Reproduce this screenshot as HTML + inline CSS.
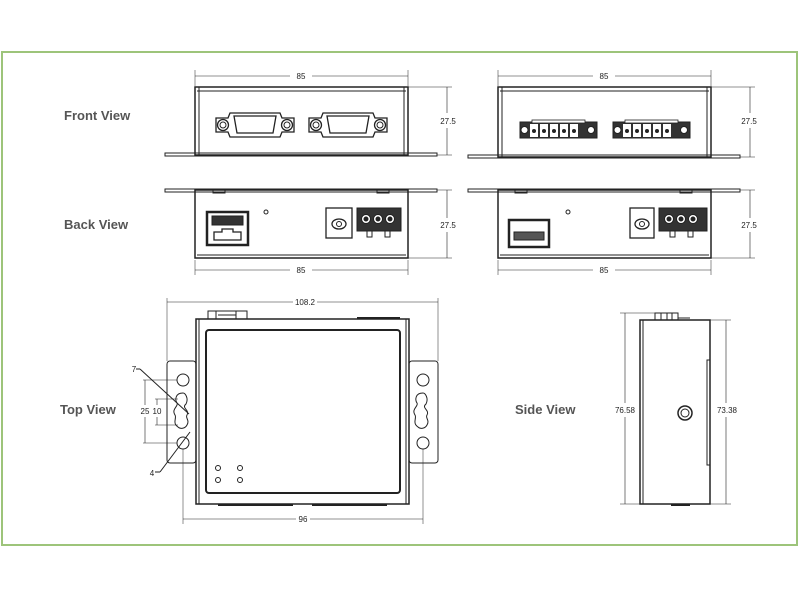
<!DOCTYPE html>
<html><head><meta charset="utf-8"><style>
html,body{margin:0;padding:0;background:#fff;width:800px;height:600px;overflow:hidden}
svg{display:block}
text{font-family:"Liberation Sans",sans-serif}
.lbl{font-size:13px;fill:#555;font-weight:bold}
.d{font-size:8px;fill:#222}
</style></head><body>
<svg width="800" height="600" viewBox="0 0 800 600">
<rect x="2" y="52" width="795" height="493" fill="none" stroke="#9dc47a" stroke-width="2"/>
<text class="lbl" x="64" y="120">Front View</text>
<text class="lbl" x="64" y="229">Back View</text>
<text class="lbl" x="60" y="414">Top View</text>
<text class="lbl" x="515" y="414">Side View</text>
<g fill="none" stroke="#222" stroke-width="1">
<!-- Front left -->
<rect x="195" y="87" width="213" height="68" stroke-width="1.5"/>
<line x1="197" y1="91" x2="406" y2="91"/>
<line x1="199" y1="87" x2="199" y2="155"/><line x1="404" y1="87" x2="404" y2="155"/>
<rect x="165" y="153" width="272" height="3"/>
<line x1="195" y1="70" x2="195" y2="86" stroke-width=".5"/><line x1="408" y1="70" x2="408" y2="86" stroke-width=".5"/>
<line x1="195" y1="76" x2="290" y2="76" stroke-width=".6"/><line x1="312" y1="76" x2="408" y2="76" stroke-width=".6"/>
<line x1="408" y1="87" x2="452" y2="87" stroke-width=".5"/><line x1="437" y1="155" x2="452" y2="155" stroke-width=".5"/>
<line x1="447" y1="87" x2="447" y2="113" stroke-width=".6"/><line x1="447" y1="128" x2="447" y2="155" stroke-width=".6"/>
<g id="db">
<path d="M216 118 h12 l2 -5 h50 l2 5 h12 v14 h-12 l-2 5 h-50 l-2 -5 h-12 z" stroke-width="1.3"/>
<circle cx="223" cy="125" r="5.5" stroke-width="1.3"/><circle cx="223" cy="125" r="3"/>
<circle cx="287" cy="125" r="5.5" stroke-width="1.3"/><circle cx="287" cy="125" r="3"/>
<path d="M234 116 h42 l-3 17 h-36 z" stroke-width="1.3"/>
</g>
<use href="#db" x="93"/>
<!-- Back left -->
<rect x="195" y="190" width="213" height="68" stroke-width="1.5"/>
<line x1="197" y1="255" x2="406" y2="255"/>
<rect x="165" y="189" width="272" height="3"/>
<rect x="213" y="190" width="12" height="3"/><rect x="377" y="190" width="12" height="3"/>
<line x1="195" y1="260" x2="195" y2="275" stroke-width=".5"/><line x1="408" y1="260" x2="408" y2="275" stroke-width=".5"/>
<line x1="195" y1="270" x2="290" y2="270" stroke-width=".6"/><line x1="312" y1="270" x2="408" y2="270" stroke-width=".6"/>
<line x1="437" y1="190" x2="452" y2="190" stroke-width=".5"/><line x1="408" y1="258" x2="452" y2="258" stroke-width=".5"/>
<line x1="447" y1="190" x2="447" y2="218" stroke-width=".6"/><line x1="447" y1="232" x2="447" y2="258" stroke-width=".6"/>
<rect x="207" y="212" width="41" height="33" stroke-width="2.5"/>
<rect x="212" y="216" width="31" height="9" fill="#333"/>
<path d="M214 232 h8 v-3 h11 v3 h8 v8 h-27 z" stroke-width="1.3"/>
<circle cx="266" cy="212" r="2"/>
<rect x="326" y="208" width="26" height="30" stroke-width="1.3"/>
<ellipse cx="339" cy="224" rx="7" ry="5" stroke-width="1.3"/><circle cx="339" cy="224" r="2.5"/>
<rect x="357" y="208" width="44" height="23" fill="#333"/>
<g fill="#fff"><circle cx="366" cy="219" r="4.5"/><circle cx="378" cy="219" r="4.5"/><circle cx="390" cy="219" r="4.5"/></g>
<g fill="#222"><circle cx="366" cy="219" r="2"/><circle cx="378" cy="219" r="2"/><circle cx="390" cy="219" r="2"/></g>
<rect x="367" y="231" width="5" height="6"/><rect x="385" y="231" width="5" height="6"/>
<!-- Front right -->
<rect x="498" y="87" width="213" height="70" stroke-width="1.5"/>
<line x1="500" y1="91" x2="709" y2="91"/>
<line x1="502" y1="87" x2="502" y2="157"/><line x1="707" y1="87" x2="707" y2="157"/>
<rect x="468" y="155" width="272" height="3"/>
<line x1="498" y1="70" x2="498" y2="86" stroke-width=".5"/><line x1="711" y1="70" x2="711" y2="86" stroke-width=".5"/>
<line x1="498" y1="76" x2="593" y2="76" stroke-width=".6"/><line x1="615" y1="76" x2="711" y2="76" stroke-width=".6"/>
<line x1="711" y1="87" x2="755" y2="87" stroke-width=".5"/><line x1="740" y1="157" x2="755" y2="157" stroke-width=".5"/>
<line x1="750" y1="87" x2="750" y2="113" stroke-width=".6"/><line x1="750" y1="128" x2="750" y2="157" stroke-width=".6"/>
<g id="tb">
<rect x="520" y="122" width="77" height="16" fill="#333"/>
<rect x="532" y="120" width="53" height="3" fill="#fff" stroke-width=".8"/>
<g fill="#fff" stroke="none"><rect x="530" y="124" width="8" height="13"/><rect x="540" y="124" width="8" height="13"/><rect x="550" y="124" width="8" height="13"/><rect x="560" y="124" width="8" height="13"/><rect x="570" y="124" width="8" height="13"/></g>
<g fill="#222" stroke="none"><circle cx="534" cy="131" r="2"/><circle cx="544" cy="131" r="2"/><circle cx="554" cy="131" r="2"/><circle cx="564" cy="131" r="2"/><circle cx="574" cy="131" r="2"/></g>
<circle cx="524.5" cy="130" r="3.5" fill="#fff"/><circle cx="591" cy="130" r="3.5" fill="#fff"/>
</g>
<use href="#tb" x="93"/>
<!-- Back right -->
<rect x="498" y="190" width="213" height="68" stroke-width="1.5"/>
<line x1="500" y1="255" x2="709" y2="255"/>
<rect x="468" y="189" width="272" height="3"/>
<rect x="515" y="190" width="12" height="3"/><rect x="680" y="190" width="12" height="3"/>
<line x1="498" y1="260" x2="498" y2="275" stroke-width=".5"/><line x1="711" y1="260" x2="711" y2="275" stroke-width=".5"/>
<line x1="498" y1="270" x2="593" y2="270" stroke-width=".6"/><line x1="615" y1="270" x2="711" y2="270" stroke-width=".6"/>
<line x1="740" y1="190" x2="755" y2="190" stroke-width=".5"/><line x1="711" y1="258" x2="755" y2="258" stroke-width=".5"/>
<line x1="750" y1="190" x2="750" y2="218" stroke-width=".6"/><line x1="750" y1="232" x2="750" y2="258" stroke-width=".6"/>
<rect x="509" y="220" width="40" height="27" stroke-width="2.5"/>
<rect x="514" y="232" width="30" height="8" fill="#555"/>
<circle cx="568" cy="212" r="2"/>
<rect x="630" y="208" width="24" height="30" stroke-width="1.3"/>
<ellipse cx="642" cy="224" rx="7" ry="5" stroke-width="1.3"/><circle cx="642" cy="224" r="2.5"/>
<rect x="659" y="208" width="48" height="23" fill="#333"/>
<g fill="#fff"><circle cx="669" cy="219" r="4.5"/><circle cx="681" cy="219" r="4.5"/><circle cx="693" cy="219" r="4.5"/></g>
<g fill="#222"><circle cx="669" cy="219" r="2"/><circle cx="681" cy="219" r="2"/><circle cx="693" cy="219" r="2"/></g>
<rect x="670" y="231" width="5" height="6"/><rect x="688" y="231" width="5" height="6"/>
<!-- Top view -->
<line x1="167" y1="298" x2="167" y2="361" stroke-width=".5"/><line x1="438" y1="298" x2="438" y2="361" stroke-width=".5"/>
<line x1="167" y1="302" x2="293" y2="302" stroke-width=".6"/><line x1="317" y1="302" x2="438" y2="302" stroke-width=".6"/>
<rect x="167" y="361" width="29" height="102" rx="3"/><rect x="409" y="361" width="29" height="102" rx="3"/>
<rect x="196" y="319" width="213" height="185" stroke-width="1.5"/>
<line x1="199" y1="319" x2="199" y2="504"/><line x1="406" y1="319" x2="406" y2="504"/>
<rect x="206" y="330" width="194" height="163" rx="3" stroke-width="2"/>
<rect x="208" y="311" width="39" height="8"/><line x1="216" y1="311" x2="216" y2="319"/><line x1="236" y1="311" x2="236" y2="319"/>
<line x1="218" y1="315" x2="236" y2="315"/>
<line x1="357" y1="318" x2="400" y2="318" stroke-width="2"/>
<line x1="218" y1="505" x2="293" y2="505" stroke-width="2"/><line x1="312" y1="505" x2="387" y2="505" stroke-width="2"/>
<circle cx="183" cy="380" r="6"/><circle cx="183" cy="443" r="6"/>
<circle cx="423" cy="380" r="6"/><circle cx="423" cy="443" r="6"/>
<path d="M183 393 c-8 0 -8 7 -6 10 c2 3 -6 6 -2 12 c2 3 -3 8 3 12 c2 2 7 2 9 -2 c3 -5 -2 -7 0 -10 c3 -5 -6 -7 -1 -11 c3 -6 -1 -11 -3 -11 z"/>
<path d="M423 393 c-8 0 -8 7 -6 10 c2 3 -6 6 -2 12 c2 3 -3 8 3 12 c2 2 7 2 9 -2 c3 -5 -2 -7 0 -10 c3 -5 -6 -7 -1 -11 c3 -6 -1 -11 -3 -11 z"/>
<line x1="140" y1="369" x2="189" y2="414"/><line x1="136" y1="369" x2="140" y2="369"/>
<line x1="190" y1="432" x2="160" y2="472"/><line x1="155" y1="472" x2="160" y2="472"/>
<line x1="143" y1="380" x2="177" y2="380" stroke-width=".5"/><line x1="143" y1="443" x2="177" y2="443" stroke-width=".5"/>
<line x1="145" y1="380" x2="145" y2="405" stroke-width=".6"/><line x1="145" y1="417" x2="145" y2="443" stroke-width=".6"/>
<line x1="155" y1="399" x2="178" y2="399" stroke-width=".5"/><line x1="155" y1="425" x2="178" y2="425" stroke-width=".5"/>
<line x1="157" y1="399" x2="157" y2="405" stroke-width=".6"/><line x1="157" y1="417" x2="157" y2="425" stroke-width=".6"/>
<line x1="183" y1="449" x2="183" y2="524" stroke-width=".5"/><line x1="423" y1="449" x2="423" y2="524" stroke-width=".5"/>
<line x1="183" y1="519" x2="296" y2="519" stroke-width=".6"/><line x1="310" y1="519" x2="423" y2="519" stroke-width=".6"/>
<circle cx="218" cy="468" r="2.5"/><circle cx="240" cy="468" r="2.5"/><circle cx="218" cy="480" r="2.5"/><circle cx="240" cy="480" r="2.5"/>
<!-- Side view -->
<rect x="640" y="320" width="70" height="184" stroke-width="1.5"/>
<line x1="643" y1="320" x2="643" y2="504"/>
<rect x="655" y="313" width="23" height="7"/><line x1="661" y1="313" x2="661" y2="320"/><line x1="667" y1="313" x2="667" y2="320"/><line x1="672" y1="313" x2="672" y2="320"/>
<line x1="678" y1="318" x2="690" y2="318"/>
<rect x="707" y="360" width="3" height="105"/>
<line x1="671" y1="505" x2="690" y2="505" stroke-width="2"/>
<circle cx="685" cy="413" r="7" stroke-width="1.5"/><circle cx="685" cy="413" r="4"/>
<line x1="620" y1="313" x2="655" y2="313" stroke-width=".5"/><line x1="620" y1="504" x2="640" y2="504" stroke-width=".5"/>
<line x1="625" y1="313" x2="625" y2="403" stroke-width=".6"/><line x1="625" y1="417" x2="625" y2="504" stroke-width=".6"/>
<line x1="710" y1="320" x2="731" y2="320" stroke-width=".5"/><line x1="710" y1="504" x2="731" y2="504" stroke-width=".5"/>
<line x1="726" y1="320" x2="726" y2="403" stroke-width=".6"/><line x1="726" y1="417" x2="726" y2="504" stroke-width=".6"/>
</g>
<g class="d" text-anchor="middle">
<text x="301" y="79">85</text><text x="604" y="79">85</text>
<text x="301" y="273">85</text><text x="604" y="273">85</text>
<text x="448" y="124">27.5</text><text x="749" y="124">27.5</text>
<text x="448" y="228">27.5</text><text x="749" y="228">27.5</text>
<text x="305" y="305">108.2</text><text x="303" y="522">96</text>
<text x="134" y="372">7</text><text x="152" y="476">4</text>
<text x="145" y="414">25</text><text x="157" y="414">10</text>
<text x="625" y="413">76.58</text><text x="727" y="413">73.38</text>
</g>
</svg>
</body></html>
